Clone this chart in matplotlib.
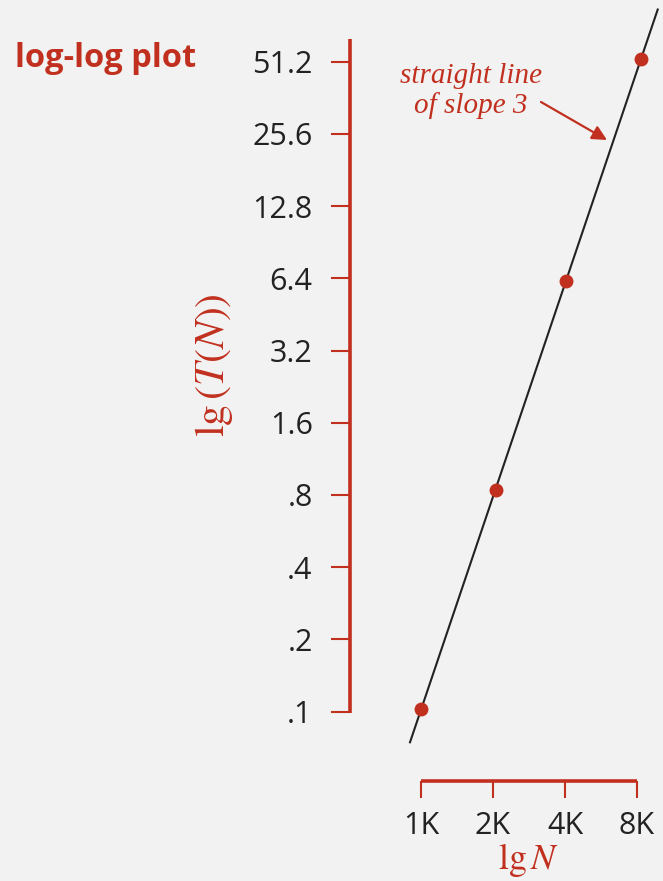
import numpy as np
import matplotlib.pyplot as plt
from matplotlib.ticker import FixedLocator, FixedFormatter, NullLocator

# data
N = [1000, 2050, 4030, 8300]
T = [0.102, 0.84, 6.23, 52.3]
y_ticks = [0.1, 0.2, 0.4, 0.8, 1.6, 3.2, 6.4, 12.8, 25.6, 51.2]
y_labels = ['.1', '.2', '.4', '.8', '1.6', '3.2', '6.4', '12.8', '25.6', '51.2']
x_ticks = [1000, 2000, 4000, 8000]
x_labels = ['1K', '2K', '4K', '8K']

RED = '#c1301f'
INK = '#222222'
BG = '#f2f2f2'

W, H = 663, 881
fig = plt.figure(figsize=(W / 100, H / 100), dpi=100, facecolor=BG)
ax = fig.add_axes([0, 0, 1, 1])
ax.set_facecolor(BG)
ax.set_xscale('log', base=2)
ax.set_yscale('log', base=2)

# pixel <-> data mapping (72 px per doubling on both axes)
def px2N(px):
    return 1000 * 2 ** ((px - 421) / 72.0)

def py2T(py):
    return 0.1 * 2 ** ((711.5 - py) / 72.2)

ax.set_xlim(px2N(0), px2N(W))
ax.set_ylim(py2T(H), py2T(0))

# fitted straight line in log-log space
slope, icpt = np.polyfit(np.log2(N), np.log2(T), 1)
xl = np.array([px2N(410), px2N(657.7)])
ax.plot(xl, 2 ** (icpt + slope * np.log2(xl)), color=INK, lw=1.5, zorder=2)
ax.plot(N, T, 'o', color=RED, ms=10, mec='none', zorder=3)

# spines
ax.spines['top'].set_visible(False)
ax.spines['right'].set_visible(False)
ax.spines['left'].set_position(('data', px2N(349.5)))
ax.spines['left'].set_bounds(py2T(712.5), py2T(39))
ax.spines['bottom'].set_position(('data', py2T(780.7)))
ax.spines['bottom'].set_bounds(1000, 8000)
for s in ('left', 'bottom'):
    ax.spines[s].set_color(RED)
    ax.spines[s].set_linewidth(2.6)
    ax.spines[s].set_capstyle('butt')

ax.yaxis.set_major_locator(FixedLocator(y_ticks))
ax.yaxis.set_major_formatter(FixedFormatter(y_labels))
ax.yaxis.set_minor_locator(NullLocator())
ax.xaxis.set_major_locator(FixedLocator(x_ticks))
ax.xaxis.set_major_formatter(FixedFormatter(x_labels))
ax.xaxis.set_minor_locator(NullLocator())

ax.tick_params(axis='y', direction='out', length=13.5, width=1.5, color=RED,
               pad=13, labelsize=22, labelcolor=INK)
ax.tick_params(axis='x', direction='out', length=12, width=1.5, color=RED,
               pad=10, labelsize=22, labelcolor=INK)
for lab in ax.get_xticklabels() + ax.get_yticklabels():
    lab.set_fontfamily('Open Sans')

# texts
fig.text(15 / W, 1 - 67 / H, 'log-log plot', color=RED, fontsize=23.5,
         fontweight='bold', family='Open Sans', ha='left', va='baseline')

plt.rcParams['mathtext.fontset'] = 'stix'
fig.text(214 / W, 1 - 365 / H, r'$\mathrm{lg}\,(T(N))$', color=RED, fontsize=30,
         rotation=90, ha='center', va='center')
fig.text(528 / W, 1 - 869 / H, r'$\mathrm{lg}\,N$', color=RED, fontsize=26,
         ha='center', va='baseline')

fig.text(471 / W, 1 - 83 / H, 'straight line', color=RED, fontsize=21,
         style='italic', family='Liberation Serif', ha='center', va='baseline')
fig.text(471 / W, 1 - 113 / H, 'of slope 3', color=RED, fontsize=21,
         style='italic', family='Liberation Serif', ha='center', va='baseline')
ax.annotate('', xy=(607, H - 140), xycoords='figure pixels',
            xytext=(541, H - 102), textcoords='figure pixels',
            arrowprops=dict(arrowstyle='-|>', color=RED, lw=1.6,
                            mutation_scale=22, shrinkA=0, shrinkB=0))

fig.savefig('out.png', dpi=100, facecolor=BG)
